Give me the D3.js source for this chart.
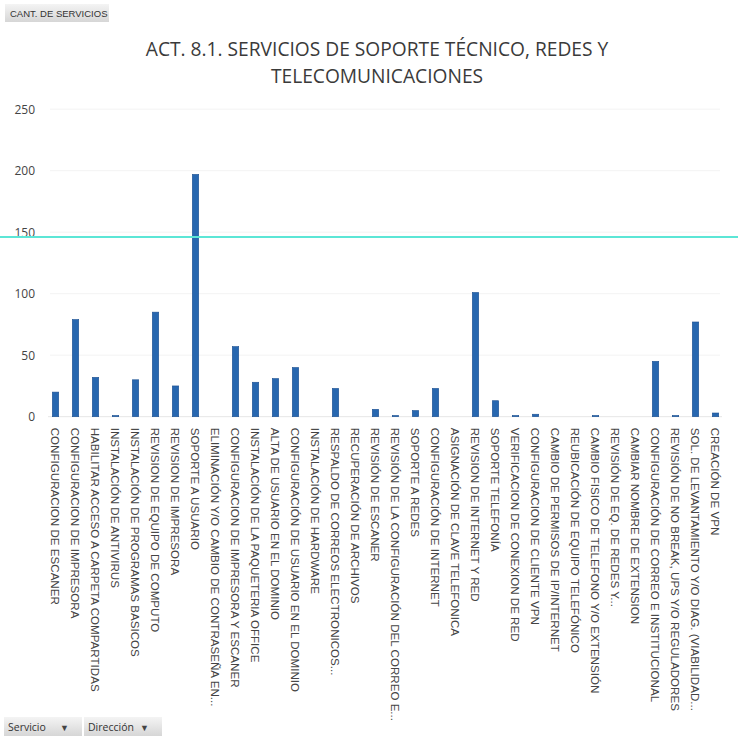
<!DOCTYPE html>
<html><head><meta charset="utf-8">
<script src="https://cdn.jsdelivr.net/npm/d3@7"></script>
<style>body{margin:0;background:#fff}</style>
</head><body><svg id="c" width="738" height="741"></svg>
<script>
const categories = [
  "CONFIGURACION DE ESCANER",
  "CONFIGURACION DE IMPRESORA",
  "HABILITAR ACCESO A CARPETA COMPARTIDAS",
  "INSTALACIÓN DE ANTIVIRUS",
  "INSTALACIÓN DE PROGRAMAS BASICOS",
  "REVISION DE EQUIPO DE COMPUTO",
  "REVISION DE IMPRESORA",
  "SOPORTE A USUARIO",
  "ELIMINACIÓN Y/O CAMBIO DE CONTRASEÑA EN...",
  "CONFIGURACION DE IMPRESORA Y ESCANER",
  "INSTALACIÓN DE LA PAQUETERIA OFFICE",
  "ALTA DE USUARIO EN EL DOMINIO",
  "CONFIGURACIÓN DE USUARIO EN EL DOMINIO",
  "INSTALACIÓN DE HARDWARE",
  "RESPALDO DE CORREOS ELECTRONICOS...",
  "RECUPERACIÓN DE ARCHIVOS",
  "REVISIÓN DE ESCANER",
  "REVISIÓN DE LA CONFIGURACIÓN DEL CORREO E...",
  "SOPORTE A REDES",
  "CONFIGURACIÓN DE INTERNET",
  "ASIGNACIÓN DE CLAVE TELEFONICA",
  "REVISION DE INTERNET Y RED",
  "SOPORTE TELEFONÍA",
  "VERIFICACION DE CONEXION DE RED",
  "CONFIGURACION DE CLIENTE VPN",
  "CAMBIO DE PERMISOS DE IP/INTERNET",
  "REUBICACIÓN DE EQUIPO TELEFÓNICO",
  "CAMBIO FISICO DE TELEFONO Y/O EXTENSIÓN",
  "REVISIÓN DE EQ. DE REDES Y...",
  "CAMBIAR NOMBRE DE EXTENSION",
  "CONFIGURACIÓN DE CORREO E INSTITUCIONAL",
  "REVISIÓN DE NO BREAK, UPS Y/O REGULADORES",
  "SOL. DE LEVANTAMIENTO Y/O DIAG. (VIABILIDAD...",
  "CREACIÓN DE VPN"
];
const values = [20, 79, 32, 1, 30, 85, 25, 197, 0, 57, 28, 31, 40, 0, 23, 0, 6, 1, 5, 23,
                0, 101, 13, 1, 2, 0, 0, 1, 0, 0, 45, 1, 77, 3];
const yTicks = [0, 50, 100, 150, 200, 250];
const titleLines = ["ACT. 8.1. SERVICIOS DE SOPORTE TÉCNICO, REDES Y", "TELECOMUNICACIONES"];
const fieldButton = "CANT. DE SERVICIOS";
const filterButtons = ["Servicio", "Dirección"];
const artifactLineValue = 146;

const svg = d3.select("#c");
const W = 738, H = 741;
const font = "Liberation Sans, Arial, sans-serif";

const x = d3.scaleBand().domain(categories).range([45.5, 725.5]).paddingInner(0.68).paddingOuter(0.34);
const y = d3.scaleLinear().domain([0, 250]).range([416.7, 109.2]);

const defs = svg.append("defs");
const g1 = defs.append("linearGradient").attr("id","btn").attr("x1",0).attr("y1",0).attr("x2",0).attr("y2",1);
g1.append("stop").attr("offset","0%").attr("stop-color","#f4f4f4");
g1.append("stop").attr("offset","100%").attr("stop-color","#d6d6d6");

// field button top-left
const fb = svg.append("g");
fb.append("rect").attr("x",5).attr("y",4).attr("width",104).attr("height",18).attr("fill","url(#btn)");
fb.append("text").attr("x",10).attr("y",17).attr("font-family","Liberation Sans Narrow, Arial Narrow, sans-serif")
  .attr("font-size",9.5).attr("fill","#333").text(fieldButton);

// title
svg.append("g").selectAll("text").data(titleLines).join("text")
  .attr("x", 377).attr("y", (d,i) => 56 + i*27)
  .attr("text-anchor","middle").attr("font-family","Open Sans, sans-serif")
  .attr("font-size",19.2).attr("fill","#3a3a3a").text(d => d);

// gridlines
svg.append("g").selectAll("line").data(yTicks.filter(t=>t>0)).join("line")
  .attr("x1", 50).attr("x2", 720).attr("y1", d=>y(d)).attr("y2", d=>y(d))
  .attr("stroke","#f3f3f3").attr("stroke-width",1);

// y axis
const yAxis = d3.axisLeft(y).tickValues(yTicks).tickSize(0).tickPadding(0);
const ya = svg.append("g").attr("transform","translate(35,0)").call(yAxis);
ya.select(".domain").remove();
ya.selectAll("text").attr("font-family","Open Sans, sans-serif").attr("font-size",12).attr("fill","#444");

// baseline
svg.append("line").attr("x1",48).attr("x2",722).attr("y1",y(0)).attr("y2",y(0)).attr("stroke","#e6e6e6");

// bars
svg.append("g").selectAll("rect").data(values).join("rect")
  .attr("x", (d,i) => x(categories[i]))
  .attr("width", x.bandwidth())
  .attr("y", d => y(d))
  .attr("height", d => y(0) - y(d))
  .attr("fill", "#2767b0")
  .attr("stroke", "#1d5192").attr("stroke-width", 0.6);

// x axis labels
const xAxis = d3.axisBottom(x).tickSize(0).tickPadding(0);
const xa = svg.append("g").attr("transform", `translate(0,${y(0)})`).call(xAxis);
xa.select(".domain").remove();
xa.selectAll("text")
  .attr("font-family", font).attr("font-size", 11.6).attr("fill","#444")
  .attr("text-anchor","start").attr("dy", null).attr("y", 0).attr("x", 0)
  .attr("dominant-baseline","central")
  .attr("transform","translate(0,11) rotate(90)");

// artifact scan line
svg.append("line").attr("x1",0).attr("x2",W).attr("y1",y(artifactLineValue)).attr("y2",y(artifactLineValue))
  .attr("stroke","#5ce6d6").attr("stroke-width",2);

// filter buttons bottom
const bb = svg.append("g").selectAll("g").data(filterButtons).join("g")
  .attr("transform",(d,i)=>`translate(${4 + i*80},717)`);
bb.append("rect").attr("width",78).attr("height",19).attr("fill","url(#btn)");
bb.append("text").attr("x",4).attr("y",14).attr("font-family","Open Sans, sans-serif").attr("font-size",10.5)
  .attr("fill","#333").text(d=>d);
bb.append("text").attr("x",56).attr("y",14).attr("font-family",font).attr("font-size",9).attr("fill","#444").text("▼");
</script></body></html>
